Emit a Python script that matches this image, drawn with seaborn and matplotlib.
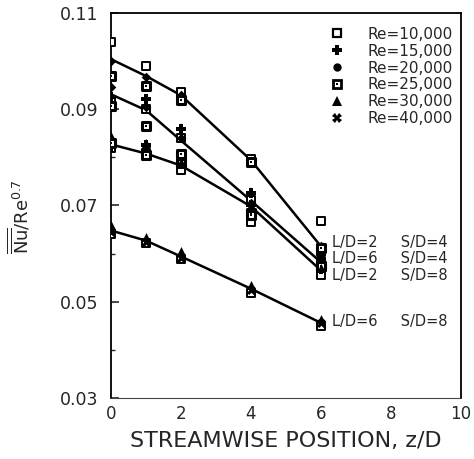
import matplotlib
matplotlib.use("Agg")
import matplotlib.pyplot as plt
import seaborn as sns
import pandas as pd
import numpy as np
from matplotlib.lines import Line2D
from matplotlib.legend_handler import HandlerTuple
from matplotlib.ticker import MultipleLocator, FixedLocator

# ---- data ----
z = [0, 1, 2, 4, 6]
configs = ["L/D=2     S/D=4", "L/D=6     S/D=4", "L/D=2     S/D=8", "L/D=6     S/D=8"]
line_A = [0.1004, 0.0969, 0.0929, 0.0794, 0.0615]
line_B = [0.0931, 0.0898, 0.0835, 0.0710, 0.0582]
line_C = [0.0827, 0.0808, 0.0783, 0.0698, 0.0565]
line_D = [0.0648, 0.0627, 0.0594, 0.0527, 0.0456]
label_y = [0.0623, 0.0589, 0.0555, 0.0458]

re_labels = ["Re=10,000", "Re=15,000", "Re=20,000", "Re=25,000", "Re=30,000", "Re=40,000"]
# markers per configuration
A_re10 = [0.1040, 0.0990, 0.0935, 0.0796, 0.0668]
A_re20 = [0.1000, 0.0968, 0.0930, 0.0793, 0.0615]
A_re25 = [0.0970, 0.0948, 0.0920, 0.0790, 0.0612]
B_re10 = [0.0920, 0.0900, 0.0840, 0.0712, 0.0585]
B_re15 = [0.0925, 0.0922, 0.0858, 0.0727, 0.0600]
B_re20 = [0.0946, 0.0904, 0.0840, 0.0706, 0.0588]
B_re25 = [0.0906, 0.0866, 0.0808, 0.0685, 0.0575]
C_re10 = [0.0820, 0.0810, 0.0773, 0.0665, 0.0556]
C_re15 = [0.0822, 0.0825, 0.0795, 0.0700, 0.0568]
C_re25 = [0.0830, 0.0805, 0.0788, 0.0680, 0.0575]
C_re30 = [0.0845, 0.0830, 0.0790, 0.0700, 0.0570]
D_re10 = [0.0640, 0.0622, 0.0588, 0.0518, 0.0450]
D_re30 = [0.0660, 0.0635, 0.0605, 0.0535, 0.0465]
D_re40 = [0.0645, 0.0625, 0.0590, 0.0525, 0.0455]

x_ticks = [0, 2, 4, 6, 8, 10]
y_ticks = [0.03, 0.05, 0.07, 0.09, 0.11]

# ---- build frames ----
lines = pd.DataFrame({
    "z": z * 4,
    "val": line_A + line_B + line_C + line_D,
    "config": sum([[c] * len(z) for c in configs], []),
})

pts = []
for re, arrs in {
    "Re=10,000": [A_re10, B_re10, C_re10, D_re10],
    "Re=15,000": [B_re15, C_re15],
    "Re=20,000": [A_re20, B_re20],
    "Re=25,000": [A_re25, B_re25, C_re25],
    "Re=30,000": [C_re30, D_re30],
    "Re=40,000": [D_re40],
}.items():
    for arr in arrs:
        for zi, v in zip(z, arr):
            pts.append((zi, v, re))
pts = pd.DataFrame(pts, columns=["z", "val", "Re"])

sns.set_theme(style="ticks")
plt.rcParams["font.family"] = ["DejaVu Sans"]
plt.rcParams["mathtext.fontset"] = "dejavusans"

fig = plt.figure(figsize=(4.74, 4.59), dpi=100)
ax = fig.add_axes([111 / 474, 1 - 398 / 459, (461 - 111) / 474, (398 - 13) / 459])

sns.lineplot(data=lines, x="z", y="val", units="config", estimator=None,
             color="black", lw=1.8, ax=ax, legend=False, zorder=2)

styles = {
    "Re=10,000": dict(marker="s", s=36, facecolor="white", edgecolor="black", linewidth=1.4),
    "Re=15,000": dict(marker="P", s=44, color="black", linewidth=0),
    "Re=20,000": dict(marker="D", s=24, color="black", linewidth=0),
    "Re=25,000": dict(marker="s", s=36, facecolor="white", edgecolor="black", linewidth=2.2),
    "Re=30,000": dict(marker="^", s=42, color="black", linewidth=0),
    "Re=40,000": dict(marker="X", s=42, color="black", linewidth=0),
}
for re in re_labels:
    sub = pts[pts["Re"] == re]
    sns.scatterplot(data=sub, x="z", y="val", ax=ax, legend=False, zorder=3, **styles[re])
    if re == "Re=25,000":
        sns.scatterplot(data=sub, x="z", y="val", ax=ax, legend=False, zorder=4,
                        marker="s", s=3, color="black", linewidth=0)

# labels at line ends
for c, yv in zip(configs, label_y):
    ax.text(6.3, yv, c, fontsize=10.5, va="center", ha="left")

# legend
handles = [
    Line2D([], [], ls="", marker="s", ms=5.5, mfc="white", mec="black", mew=1.6),
    Line2D([], [], ls="", marker="P", ms=6.5, color="black", mew=0),
    Line2D([], [], ls="", marker="o", ms=6, color="black", mew=0),
    (Line2D([], [], ls="", marker="s", ms=5.5, mfc="white", mec="black", mew=2.0),
     Line2D([], [], ls="", marker="s", ms=1.5, color="black", mew=0)),
    Line2D([], [], ls="", marker="^", ms=6.5, color="black", mew=0),
    Line2D([], [], ls="", marker="X", ms=6.5, color="black", mew=0),
]
leg = ax.legend(handles, re_labels, handler_map={tuple: HandlerTuple(ndivide=1)},
                loc="upper right", bbox_to_anchor=(0.985, 0.972), frameon=False,
                fontsize=11, handlelength=1.0, handletextpad=1.5, labelspacing=0.12,
                borderaxespad=0.0, borderpad=0.2)

ax.set_xlim(0, 10)
ax.set_ylim(0.03, 0.11)
ax.xaxis.set_major_locator(FixedLocator(x_ticks))
ax.yaxis.set_major_locator(FixedLocator(y_ticks))
ax.yaxis.set_minor_locator(MultipleLocator(0.01))
ax.set_xticklabels([str(t) for t in x_ticks])
ax.set_yticklabels([f"{t:.2f}" for t in y_ticks])
ax.tick_params(axis="y", which="major", direction="in", length=6, width=1.2, labelsize=12.5, pad=9)
ax.tick_params(axis="y", which="minor", direction="in", length=3, width=1.0)
ax.tick_params(axis="x", which="major", direction="in", length=0, labelsize=12, pad=5)
for sp in ax.spines.values():
    sp.set_visible(True)
    sp.set_color("black")
    sp.set_linewidth(1.3)
ax.spines["bottom"].set_linewidth(0.8)
ax.spines["bottom"].set_color("#444444")
ax.spines["bottom"].set_linestyle((0, (4, 1)))

ax.set_xlabel("STREAMWISE POSITION, z/D", fontsize=16, labelpad=6)
ax.set_ylabel(r"$\overline{\overline{\mathrm{Nu}}}/\mathrm{Re}^{0.7}$", fontsize=13)
ax.yaxis.set_label_coords(-0.225, 0.47)

fig.savefig("out.png", dpi=100)
